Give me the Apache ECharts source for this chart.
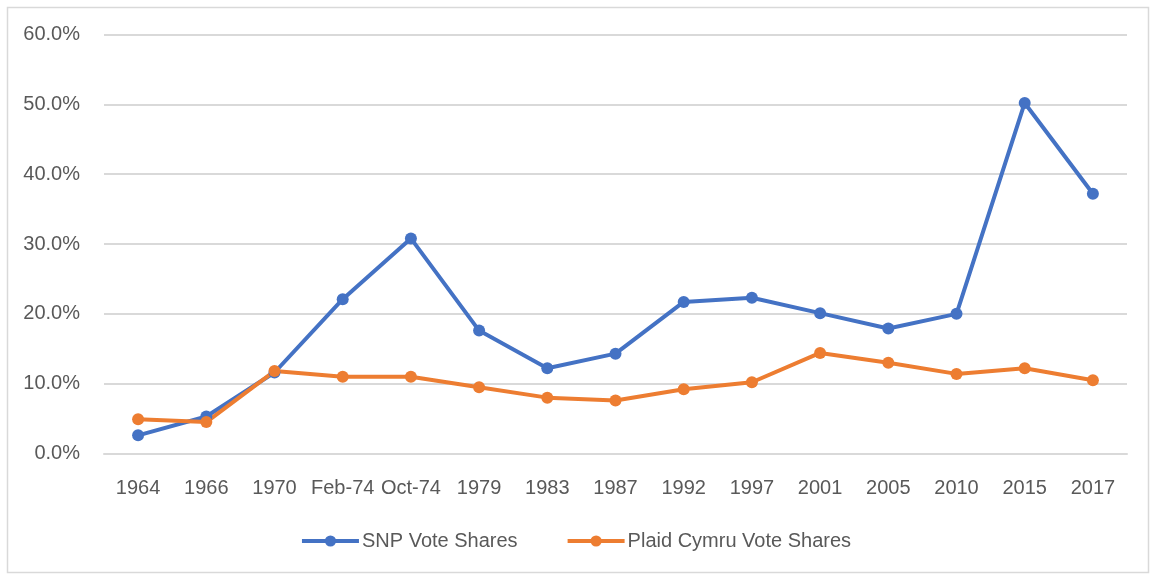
<!DOCTYPE html>
<html><head><meta charset="utf-8">
<script src="https://cdn.jsdelivr.net/npm/echarts@6/dist/echarts.min.js"></script>
<style>html,body{margin:0;padding:0;background:#fff}#c{width:1151px;height:575px}</style>
</head><body><div id="c"></div>
<script>
const categories = ['1964','1966','1970','Feb-74','Oct-74','1979','1983','1987','1992','1997','2001','2005','2010','2015','2017'];
const snpValues = [2.6, 5.3, 11.6, 22.1, 30.8, 17.6, 12.2, 14.3, 21.7, 22.3, 20.1, 17.9, 20.0, 50.2, 37.2];
const plaidValues = [4.9, 4.5, 11.8, 11.0, 11.0, 9.5, 8.0, 7.6, 9.2, 10.2, 14.4, 13.0, 11.4, 12.2, 10.5];
const yTicks = {min: 0, max: 60, interval: 10};
const seriesNames = ['SNP Vote Shares', 'Plaid Cymru Vote Shares'];

const chart = echarts.init(document.getElementById('c'), null, {renderer: 'canvas'});
const font = 'Liberation Sans, Arial, sans-serif';
chart.setOption({
  animation: false,
  backgroundColor: '#fff',
  graphic: [{type: 'rect', left: 5, top: 5, shape: {width: 1141, height: 565}, style: {fill: 'none', stroke: '#d9d9d9', lineWidth: 1.5}, silent: true}],
  grid: {left: 104, right: 24, top: 34.5, bottom: 121.5},
  legend: {
    top: 526, left: 'center', itemGap: 48, itemWidth: 57, itemHeight: 14,
    lineStyle: {width: 4},
    textStyle: {color: '#595959', fontSize: 20, fontFamily: font, padding: [0, 0, 0, -2]},
    data: seriesNames
  },
  xAxis: {
    type: 'category', data: categories, boundaryGap: true,
    axisLine: {show: true, lineStyle: {color: '#d9d9d9', width: 2}},
    axisTick: {show: false},
    axisLabel: {color: '#595959', fontSize: 20, fontFamily: font, margin: 25, interval: 0}
  },
  yAxis: {
    type: 'value', min: yTicks.min, max: yTicks.max, interval: yTicks.interval,
    axisLine: {show: false}, axisTick: {show: false},
    splitLine: {lineStyle: {color: '#d9d9d9', width: 2}},
    axisLabel: {color: '#595959', fontSize: 20, fontFamily: font, margin: 24, formatter: v => v.toFixed(1) + '%'}
  },
  series: [
    {name: seriesNames[0], type: 'line', data: snpValues, color: '#4472C4', symbol: 'circle', symbolSize: 12,
     lineStyle: {width: 4}, itemStyle: {color: '#4472C4'}},
    {name: seriesNames[1], type: 'line', data: plaidValues, color: '#ED7D31', symbol: 'circle', symbolSize: 12,
     lineStyle: {width: 4}, itemStyle: {color: '#ED7D31'}}
  ]
});
</script></body></html>
